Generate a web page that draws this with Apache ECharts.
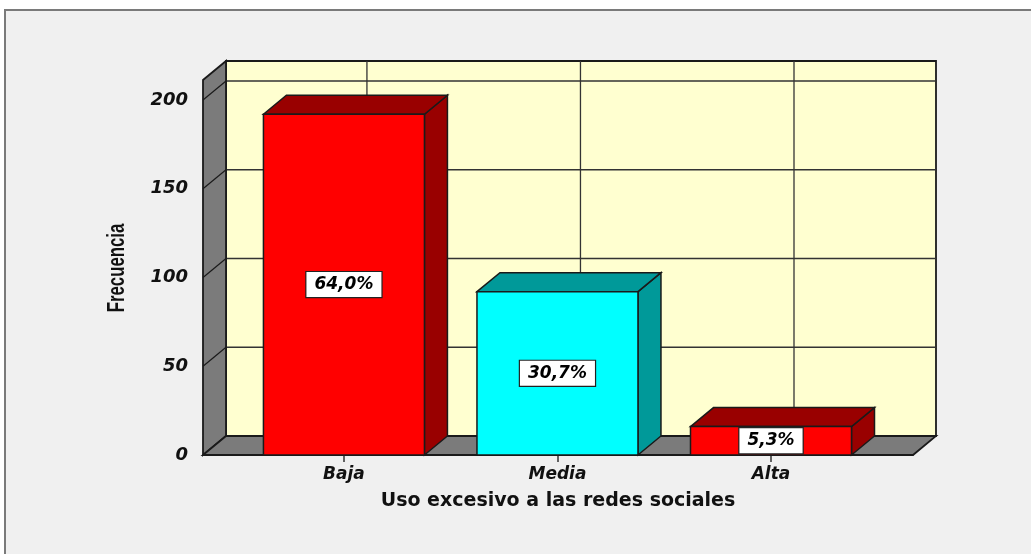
<!DOCTYPE html>
<html>
<head>
<meta charset="utf-8">
<script src="https://cdn.jsdelivr.net/npm/echarts@6/dist/echarts.min.js"></script>
<style>
  html, body { margin: 0; padding: 0; background: #ffffff; }
  #main { width: 1031px; height: 554px; }
</style>
</head>
<body>
<div id="main"></div>
<script type="text/javascript">
// datos del grafico
var categorias = ['Baja', 'Media', 'Alta'];
var frecuencias = [192, 92, 16];
var ticksY = [0, 50, 100, 150, 200];

var total = frecuencias.reduce(function (a, b) { return a + b; }, 0);
var porcentajes = frecuencias.map(function (v) {
    return (v / total * 100).toFixed(1).replace('.', ',') + '%';
});

// estilos
var caras = [
    { frente: '#ff0000', lado: '#990000' },
    { frente: '#00ffff', lado: '#009999' },
    { frente: '#ff0000', lado: '#990000' }
];
var DX = 23, DY = -19;          // profundidad 3D en pixeles
var xMin = -0.66, xMax = 2.665, yMax = 211.27;
var anchoBarra = 0.754;          // en unidades del eje x
var borde = '#1a1a1a';
var fuenteNum = 'DejaVu Sans';

var myChart = echarts.init(document.getElementById('main'));

function pt(p, d) { return [p[0] + (d ? DX : 0), p[1] + (d ? DY : 0)]; }

function renderParedes(params, api) {
    var a = api.coord([xMin, 0]), b = api.coord([xMax, 0]);
    var at = api.coord([xMin, yMax]), bt = api.coord([xMax, yMax]);
    var kids = [];
    // pared del fondo
    kids.push({ type: 'polygon', shape: { points: [pt(a, 1), pt(b, 1), pt(bt, 1), pt(at, 1)] },
        style: { fill: '#ffffd0', stroke: borde, lineWidth: 1.8 } });
    // lineas horizontales
    ticksY.forEach(function (t) {
        if (t === 0) return;
        var p = api.coord([xMin, t]), q = api.coord([xMax, t]);
        kids.push({ type: 'line', shape: { x1: p[0] + DX, y1: p[1] + DY, x2: q[0] + DX, y2: q[1] + DY },
            style: { stroke: '#333333', lineWidth: 1.3 } });
    });
    // lineas verticales en cada categoria
    categorias.forEach(function (c, i) {
        var p = api.coord([i, 0]), q = api.coord([i, yMax]);
        kids.push({ type: 'line', shape: { x1: p[0] + DX, y1: p[1] + DY, x2: q[0] + DX, y2: q[1] + DY },
            style: { stroke: '#333333', lineWidth: 1.3 } });
    });
    // pared izquierda
    kids.push({ type: 'polygon', shape: { points: [a, pt(a, 1), pt(at, 1), at] },
        style: { fill: '#7b7b7b', stroke: borde, lineWidth: 1.8 } });
    ticksY.forEach(function (t) {
        if (t === 0) return;
        var p = api.coord([xMin, t]);
        kids.push({ type: 'line', shape: { x1: p[0], y1: p[1], x2: p[0] + DX, y2: p[1] + DY },
            style: { stroke: borde, lineWidth: 1.2 } });
    });
    // piso
    kids.push({ type: 'polygon', shape: { points: [a, b, pt(b, 1), pt(a, 1)] },
        style: { fill: '#7b7b7b', stroke: borde, lineWidth: 1.8 } });
    return { type: 'group', children: kids };
}

function renderBarra(params, api) {
    var i = api.value(0), v = api.value(1);
    var l = api.coord([i - anchoBarra / 2, v]), r = api.coord([i + anchoBarra / 2, v]);
    var base = api.coord([i, 0])[1];
    var col = caras[params.dataIndex];
    var top = l[1];
    return {
        type: 'group',
        children: [
            { type: 'polygon', shape: { points: [[r[0], top], [r[0] + DX, top + DY], [r[0] + DX, base + DY], [r[0], base]] },
              style: { fill: col.lado, stroke: borde, lineWidth: 1.5 } },
            { type: 'polygon', shape: { points: [[l[0], top], [l[0] + DX, top + DY], [r[0] + DX, top + DY], [r[0], top]] },
              style: { fill: col.lado, stroke: borde, lineWidth: 1.5 } },
            { type: 'rect', shape: { x: l[0], y: top, width: r[0] - l[0], height: base - top },
              style: { fill: col.frente, stroke: borde, lineWidth: 1.5 } },
            { type: 'text', x: (l[0] + r[0]) / 2, y: (top + base) / 2,
              style: { text: porcentajes[params.dataIndex], align: 'center', verticalAlign: 'middle',
                       fill: '#000', font: 'italic bold 17px ' + fuenteNum, backgroundColor: '#ffffff',
                       borderColor: '#222', borderWidth: 1.2, padding: [3, 8, 2, 8], lineHeight: 20 } }
        ]
    };
}

var option = {
    backgroundColor: '#ffffff',
    animation: false,
    graphic: [{
        type: 'rect', z: -10, silent: true,
        shape: { x: 5, y: 10, width: 1040, height: 560 },
        style: { fill: '#f0f0f0', stroke: '#7a7a7a', lineWidth: 2 }
    }, {
        // titulo del eje y, angosto como en el original
        type: 'text', x: 118, y: 268, rotation: Math.PI / 2, scaleX: 0.84, scaleY: 1.15,
        style: { text: 'Frecuencia', align: 'center', verticalAlign: 'middle',
                 font: 'bold 20px Liberation Sans', fill: '#111' }
    }],
    grid: { left: 203, top: 80, width: 710, height: 375 },
    xAxis: {
        type: 'value', min: xMin, max: xMax,
        name: 'Uso excesivo a las redes sociales',
        nameLocation: 'middle', nameGap: 37,
        nameTextStyle: { fontFamily: fuenteNum, fontWeight: 'bold', fontSize: 19, color: '#111' },
        axisLine: { show: true, lineStyle: { color: borde, width: 1.5 } },
        axisTick: { show: true, customValues: [0, 1, 2], length: 7, lineStyle: { color: '#333', width: 1.5 } },
        axisLabel: {
            customValues: [0, 1, 2], margin: 11,
            formatter: function (v) { return categorias[Math.round(v)]; },
            fontFamily: fuenteNum, fontStyle: 'italic', fontWeight: 'bold', fontSize: 17, color: '#111'
        },
        splitLine: { show: false }
    },
    yAxis: {
        type: 'value', min: 0, max: yMax,
        axisLine: { show: true, lineStyle: { color: borde, width: 1.5 } },
        axisTick: { show: true, customValues: ticksY, length: 7, lineStyle: { color: '#222', width: 1.5 } },
        axisLabel: {
            customValues: ticksY, margin: 15, padding: [6, 0, 0, 0],
            fontFamily: fuenteNum, fontStyle: 'italic', fontWeight: 'bold', fontSize: 18, color: '#111'
        },
        splitLine: { show: false }
    },
    series: [
        {
            type: 'custom', name: 'paredes', clip: false, z: 1, silent: true,
            renderItem: renderParedes,
            data: [[0, 0]]
        },
        {
            type: 'custom', name: 'Frecuencia', clip: false, z: 2,
            renderItem: renderBarra,
            encode: { x: 0, y: 1 },
            data: frecuencias.map(function (v, i) { return [i, v]; })
        }
    ]
};

myChart.setOption(option);
</script>
</body>
</html>
